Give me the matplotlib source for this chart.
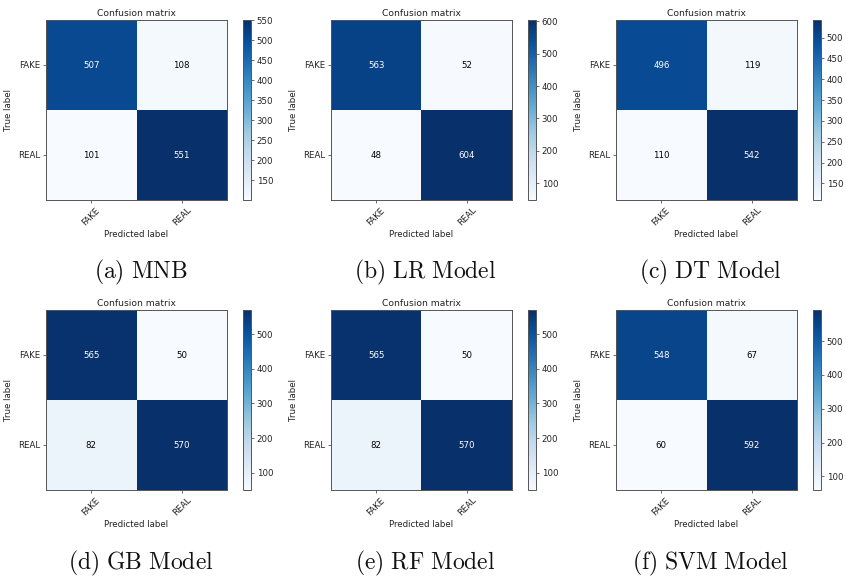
import numpy as np
import matplotlib
matplotlib.use("Agg")
import matplotlib.pyplot as plt

plt.rcParams['mathtext.fontset'] = 'cm'
plt.rcParams['font.family'] = ['DejaVu Sans']

classes = ["FAKE", "REAL"]
captions = ["(a)\\ MNB", "(b)\\ LR\\ Model", "(c)\\ DT\\ Model",
            "(d)\\ GB\\ Model", "(e)\\ RF\\ Model", "(f)\\ SVM\\ Model"]
cm_mnb = [[507, 108], [101, 551]]
cm_lr = [[563, 52], [48, 604]]
cm_dt = [[496, 119], [110, 542]]
cm_gb = [[565, 50], [82, 570]]
cm_rf = [[565, 50], [82, 570]]
cm_svm = [[548, 67], [60, 592]]
cbar_ticks_mnb = [150, 200, 250, 300, 350, 400, 450, 500, 550]
cbar_ticks_lr = [100, 200, 300, 400, 500, 600]
cbar_ticks_dt = [150, 200, 250, 300, 350, 400, 450, 500]
cbar_ticks_gb = [100, 200, 300, 400, 500]
cbar_ticks_rf = [100, 200, 300, 400, 500]
cbar_ticks_svm = [100, 200, 300, 400, 500]

mats = [cm_mnb, cm_lr, cm_dt, cm_gb, cm_rf, cm_svm]
ticks = [cbar_ticks_mnb, cbar_ticks_lr, cbar_ticks_dt,
         cbar_ticks_gb, cbar_ticks_rf, cbar_ticks_svm]

W, H = 846, 576
fig = plt.figure(figsize=(W / 100, H / 100), dpi=100)

col_left = [46, 331, 616]
row_top = [20, 310]
size_w, size_h = 181, 180
cb_off, cb_w = 197, 8
cap_y = [272, 563]

spine_col = '#555555'
fs = 6.2

for i, (m, tk, cap) in enumerate(zip(mats, ticks, captions)):
    r, c = divmod(i, 3)
    x0 = col_left[c]
    y0 = row_top[r]
    ax = fig.add_axes([x0 / W, (H - y0 - size_h) / H, size_w / W, size_h / H])
    arr = np.array(m)
    im = ax.imshow(arr, interpolation='nearest', cmap=plt.cm.Blues, aspect='auto')
    ax.set_title("Confusion matrix", fontsize=6.6, pad=3, color='#222222')
    ax.set_xticks(np.arange(len(classes)))
    ax.set_xticklabels(classes, rotation=45, fontsize=fs, color='#222222')
    ax.set_yticks(np.arange(len(classes)))
    ax.set_yticklabels(classes, fontsize=fs, color='#222222')
    ax.set_ylabel("True label", fontsize=fs, color='#222222')
    ax.set_xlabel("Predicted label", fontsize=fs, color='#222222', labelpad=2)
    ax.tick_params(length=2.5, width=0.6, pad=1.5, colors=spine_col, labelcolor='#222222')
    for s in ax.spines.values():
        s.set_color(spine_col)
        s.set_linewidth(0.7)
    thresh = arr.max() / 2.0
    for a in range(arr.shape[0]):
        for b in range(arr.shape[1]):
            ax.text(b, a, str(arr[a, b]), ha='center', va='center', fontsize=fs,
                    color='white' if arr[a, b] > thresh else 'black')
    cax = fig.add_axes([(x0 + cb_off) / W, (H - y0 - size_h) / H, cb_w / W, size_h / H])
    cb = fig.colorbar(im, cax=cax, ticks=tk)
    cb.ax.tick_params(labelsize=fs, length=2.5, width=0.6, pad=1.5,
                      colors=spine_col, labelcolor='#222222')
    cb.outline.set_edgecolor(spine_col)
    cb.outline.set_linewidth(0.7)
    fig.text((x0 + size_w / 2 + 4) / W, 1 - cap_y[r] / H, r"$\mathrm{" + cap + "}$",
             ha='center', va='center', fontsize=17, color='#111111')

fig.savefig("out.png", dpi=100)
